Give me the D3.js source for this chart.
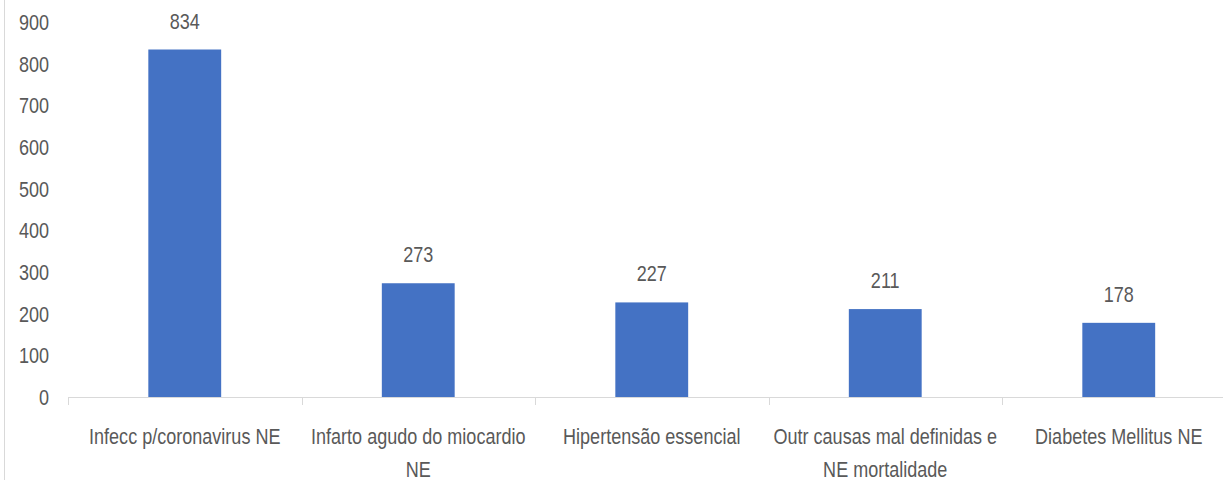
<!DOCTYPE html>
<html>
<head>
<meta charset="utf-8">
<script src="https://cdn.jsdelivr.net/npm/d3@7"></script>
<style>
  html, body { margin: 0; padding: 0; background: #fff; }
  svg { display: block; }
  text { font-family: "Liberation Sans", Arial, sans-serif; fill: #595959; font-size: 22px; }
</style>
</head>
<body>
<svg id="chart" width="1223" height="480"></svg>
<script>
// Causes of death and counts
const categories = [
  "Infecc p/coronavirus NE",
  "Infarto agudo do miocardio NE",
  "Hipertensão essencial",
  "Outr causas mal definidas e NE mortalidade",
  "Diabetes Mellitus NE"
];
const categoryLines = [
  ["Infecc p/coronavirus NE"],
  ["Infarto agudo do miocardio", "NE"],
  ["Hipertensão essencial"],
  ["Outr causas mal definidas e", "NE mortalidade"],
  ["Diabetes Mellitus NE"]
];
const values = [834, 273, 227, 211, 178];
const yTicks = [0, 100, 200, 300, 400, 500, 600, 700, 800, 900];

const svg = d3.select("#chart");
const W = 1223, H = 480;
const margin = { left: 68, top: 22, bottom: 83 };
const bandW = 233.5;
const plotBottom = H - margin.bottom; // 397
const SX = 0.82; // horizontal squeeze to get a narrow face

// Draws text squeezed horizontally around its anchor point
function narrowText(sel, x, y, anchor) {
  return sel.append("g")
    .attr("transform", `translate(${x},${y}) scale(${SX},1)`)
    .append("text")
    .attr("text-anchor", anchor || "middle");
}

// Outer frame line at the left edge
svg.append("line")
  .attr("x1", 4.5).attr("x2", 4.5)
  .attr("y1", 0).attr("y2", H)
  .attr("stroke", "#d9d9d9").attr("stroke-width", 1);

const x = d3.scaleBand()
  .domain(categories)
  .range([margin.left, margin.left + bandW * categories.length])
  .paddingInner(0.688)
  .paddingOuter(0.344);

const y = d3.scaleLinear().domain([0, 900]).range([plotBottom, margin.top]);

// Y axis labels (no axis line)
const yg = svg.append("g");
yTicks.forEach(t => {
  narrowText(yg, 49, y(t), "end")
    .attr("dy", "0.36em")
    .text(t);
});

// Bars
svg.append("g").selectAll("rect")
  .data(values)
  .join("rect")
  .attr("x", (d, i) => x(categories[i]))
  .attr("y", d => y(d))
  .attr("width", x.bandwidth())
  .attr("height", d => plotBottom - y(d))
  .attr("fill", "#4472c4");

// X axis line with boundary ticks
const xBound = d3.scaleLinear().domain([0, categories.length]).range([margin.left, margin.left + bandW * categories.length]);
svg.append("line")
  .attr("x1", margin.left).attr("x2", W)
  .attr("y1", plotBottom + 0.5).attr("y2", plotBottom + 0.5)
  .attr("stroke", "#d9d9d9").attr("stroke-width", 1);
svg.append("g").selectAll("line")
  .data(d3.range(categories.length + 1))
  .join("line")
  .attr("x1", d => Math.round(xBound(d)) + 0.5)
  .attr("x2", d => Math.round(xBound(d)) + 0.5)
  .attr("y1", plotBottom).attr("y2", plotBottom + 8)
  .attr("stroke", "#d9d9d9").attr("stroke-width", 1);

// Value labels
const vg = svg.append("g");
values.forEach((v, i) => {
  narrowText(vg, x(categories[i]) + x.bandwidth() / 2, y(v) - 21, "middle").text(v);
});

// Category labels
const cg = svg.append("g");
categories.forEach((c, i) => {
  const t = narrowText(cg, x(c) + x.bandwidth() / 2, plotBottom + 47, "middle");
  t.selectAll("tspan")
    .data(categoryLines[i])
    .join("tspan")
    .attr("x", 0)
    .attr("dy", (d, j) => j === 0 ? 0 : 33)
    .text(d => d);
});
</script>
</body>
</html>
